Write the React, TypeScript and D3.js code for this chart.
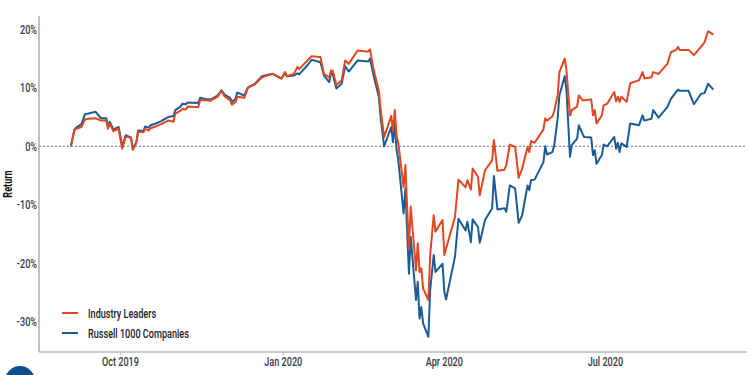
import React from "react";
import * as d3 from "d3";

const dates = [
  "2019-09-03","2019-09-05","2019-09-06","2019-09-09","2019-09-11","2019-09-13","2019-09-17","2019-09-20","2019-09-23","2019-09-24",
  "2019-09-25","2019-09-27","2019-09-30","2019-10-02","2019-10-04","2019-10-07","2019-10-08","2019-10-10","2019-10-11","2019-10-14",
  "2019-10-15","2019-10-17","2019-10-18","2019-10-21","2019-10-24","2019-10-28","2019-10-31","2019-11-01","2019-11-04","2019-11-05",
  "2019-11-07","2019-11-08","2019-11-14","2019-11-15","2019-11-18","2019-11-21","2019-11-25","2019-11-27","2019-11-29","2019-12-02",
  "2019-12-03","2019-12-05","2019-12-06","2019-12-10","2019-12-12","2019-12-16","2019-12-20","2019-12-26","2019-12-31","2020-01-02",
  "2020-01-03","2020-01-07","2020-01-09","2020-01-10","2020-01-15","2020-01-17","2020-01-22","2020-01-24","2020-01-27","2020-01-28",
  "2020-01-29","2020-01-31","2020-02-03","2020-02-05","2020-02-07","2020-02-12","2020-02-18","2020-02-19","2020-02-21","2020-02-24",
  "2020-02-25","2020-02-27","2020-03-02","2020-03-03","2020-03-04","2020-03-05","2020-03-06","2020-03-09","2020-03-10","2020-03-12",
  "2020-03-13","2020-03-16","2020-03-17","2020-03-18","2020-03-19","2020-03-20","2020-03-23","2020-03-24","2020-03-26","2020-03-27",
  "2020-03-31","2020-04-01","2020-04-02","2020-04-07","2020-04-09","2020-04-13","2020-04-14","2020-04-16","2020-04-17","2020-04-20",
  "2020-04-21","2020-04-24","2020-04-28","2020-04-29","2020-05-01","2020-05-05","2020-05-06","2020-05-08","2020-05-11","2020-05-13",
  "2020-05-15","2020-05-18","2020-05-19","2020-05-20","2020-05-22","2020-05-27","2020-05-28","2020-05-29","2020-06-01","2020-06-02",
  "2020-06-04","2020-06-05","2020-06-08","2020-06-09","2020-06-11","2020-06-12","2020-06-15","2020-06-16","2020-06-18","2020-06-19",
  "2020-06-23","2020-06-24","2020-06-25","2020-06-26","2020-06-29","2020-06-30","2020-07-02","2020-07-06","2020-07-07","2020-07-08",
  "2020-07-09","2020-07-10","2020-07-13","2020-07-15","2020-07-20","2020-07-22","2020-07-23","2020-07-27","2020-07-28","2020-07-31",
  "2020-08-05","2020-08-07","2020-08-10","2020-08-11","2020-08-12","2020-08-17","2020-08-20","2020-08-24","2020-08-26","2020-08-28",
  "2020-08-31"
];

const russell1000 = [
  0.0, 2.85, 3.2, 3.8, 5.5, 5.6, 5.9, 4.8, 4.8, 3.3,
  4.2, 2.9, 3.3, 0.0, 1.9, 1.5, -0.4, 0.7, 2.7, 2.6,
  3.4, 3.2, 3.6, 3.9, 4.3, 5.0, 5.2, 6.2, 6.8, 7.3,
  7.2, 7.5, 7.4, 8.3, 8.1, 8.0, 8.7, 9.6, 8.8, 8.3,
  7.6, 8.1, 9.2, 8.7, 10.1, 10.7, 12.0, 12.4, 11.6, 12.6,
  12.0, 12.1, 12.5, 12.3, 14.0, 14.8, 14.4, 12.1, 11.0, 12.6,
  12.3, 9.9, 10.7, 13.7, 12.8, 14.7, 14.5, 15.0, 12.1, 8.5,
  5.0, 0.0, 3.3, 0.7, 4.0, -0.5, -2.4, -11.5, -7.2, -21.8,
  -15.5, -26.3, -23.2, -29.5, -27.5, -30.3, -32.6, -24.6, -18.6, -21.5,
  -20.1, -24.9, -26.2, -18.9, -12.4, -14.4, -12.9, -16.4, -12.5, -13.8,
  -16.5, -12.6, -10.6, -5.1, -10.8, -10.6, -11.2, -6.7, -7.2, -13.1,
  -11.8, -6.7, -7.5, -5.8, -5.7, -2.7, 0.0, -1.4, -1.0, 0.0,
  4.7, 8.7, 12.0, 9.6, -1.8, 0.2, 1.3, 3.6, 2.2, 1.6,
  1.5, -1.5, -0.7, -3.0, -1.5, 0.3, 0.0, 1.6, -0.4, 0.6,
  -1.0, 0.5, -0.1, 3.9, 3.6, 5.3, 4.4, 4.7, 6.2, 4.9,
  6.7, 8.1, 9.3, 9.7, 9.5, 9.5, 7.2, 9.0, 9.1, 10.7,
  9.7
];

const industryLeaders = [
  0.0, 2.8, 3.0, 3.3, 4.6, 4.7, 4.8, 4.4, 4.4, 3.0,
  3.9, 2.6, 3.0, -0.4, 1.7, 1.4, -0.6, 0.6, 2.5, 2.4,
  3.0, 2.7, 3.1, 3.4, 3.8, 4.4, 4.2, 5.6, 6.1, 6.4,
  6.3, 6.8, 6.7, 7.9, 7.9, 7.8, 8.5, 9.5, 8.5, 7.9,
  7.1, 7.6, 8.5, 8.3, 10.0, 10.6, 11.8, 12.4, 11.6, 12.7,
  12.0, 12.4, 13.6, 13.2, 14.8, 15.4, 15.3, 12.4, 11.8, 13.0,
  12.9, 10.5, 11.3, 14.7, 14.1, 16.4, 16.2, 16.6, 13.2, 9.5,
  6.3, 1.6, 5.2, 2.5, 6.2, 1.8, 0.5, -7.0, -3.2, -17.5,
  -10.3, -21.2, -16.6, -21.5, -20.9, -24.3, -26.3, -18.6, -11.8, -14.6,
  -12.6, -18.6, -17.5, -12.1, -5.7, -7.0, -5.8, -7.4, -3.8, -5.2,
  -8.4, -4.1, -2.4, 1.1, -4.2, -4.0, -3.2, 0.3, -0.1, -5.4,
  -3.8, -0.1, -1.0, 0.9, 0.6, 2.9, 4.8, 4.4, 5.1, 5.9,
  8.7, 12.7, 15.0, 13.0, 5.3, 6.2, 6.8, 8.7, 7.9, 7.9,
  8.0, 5.3, 6.2, 3.9, 5.3, 7.0, 7.3, 9.3, 7.7, 8.5,
  7.6, 8.5, 7.6, 10.8, 11.3, 12.7, 11.6, 11.8, 12.7, 12.4,
  14.1, 16.1, 16.5, 17.0, 16.5, 16.5, 15.6, 17.0, 17.8, 19.7,
  19.1
];

const yTicks = [20, 10, 0, -10, -20, -30];
const yTickLabels = ["20%", "10%", "0%", "-10%", "-20%", "-30%"];
const xTicks = ["2019-10-01", "2020-01-01", "2020-04-01", "2020-07-01"];
const xTickLabels = ["Oct 2019", "Jan 2020", "Apr 2020", "Jul 2020"];
const seriesNames = ["Industry Leaders", "Russell 1000 Companies"];
const seriesColors = ["#e2471f", "#1b5c97"];

const W = 750;
const H = 375;
const FONT = "Roboto, 'DejaVu Sans', sans-serif";
const SX = 0.7;

function CText(props: {
  x: number;
  y: number;
  anchor?: string;
  size?: number;
  weight?: number | string;
  fill?: string;
  rotate?: number;
  children: React.ReactNode;
}) {
  const { x, y, anchor = "start", size = 13, weight = 500, fill = "#3a3a3a", rotate = 0, children } = props;
  return (
    <g transform={`translate(${x},${y}) rotate(${rotate}) scale(${SX},1)`}>
      <text x={0} y={0} dy="0.35em" textAnchor={anchor} fontSize={size} fontWeight={weight} fill={fill}>
        {children}
      </text>
    </g>
  );
}

export default function App() {
  const parse = d3.timeParse("%Y-%m-%d");
  const dts = dates.map((d) => parse(d) as Date);
  const left = 39, right = 747, top = 16, bottom = 352;

  const x = d3
    .scaleTime()
    .domain([new Date(2019, 7, 16), new Date(2020, 8, 19)])
    .range([left, right]);
  const y = d3.scaleLinear().domain([-35.2, 22.3]).range([bottom, top]);

  const line = d3
    .line<number>()
    .x((_, i) => x(dts[i]))
    .y((v) => y(v))
    .curve(d3.curveLinear);

  const series = [industryLeaders, russell1000];

  return (
    <svg
      width={W}
      height={H}
      style={{ position: "absolute", left: 0, top: 0, background: "#fff" }}
      fontFamily={FONT}
    >
      <rect x={0} y={0} width={W} height={H} fill="#fff" />
      <line x1={left} x2={right} y1={y(0)} y2={y(0)} stroke="#777" strokeWidth={1} strokeDasharray="2,2" />
      <line x1={left} x2={left} y1={top} y2={bottom} stroke="#9a9a9a" strokeWidth={1.2} />
      <line x1={left} x2={right} y1={bottom} y2={bottom} stroke="#9a9a9a" strokeWidth={1.2} />
      {yTicks.map((t, i) => (
        <CText key={"yt" + t} x={37} y={y(t)} anchor="end">
          {yTickLabels[i]}
        </CText>
      ))}
      {xTicks.map((t, i) => {
        const px = x(parse(t) as Date);
        return (
          <g key={"xt" + t}>
            <line x1={px} x2={px} y1={bottom} y2={bottom + 3} stroke="#bbb" strokeWidth={1} />
            <CText x={px} y={bottom + 9} anchor="middle">
              {xTickLabels[i]}
            </CText>
          </g>
        );
      })}
      <CText x={7} y={184} anchor="middle" rotate={-90} fill="#111" weight={700}>
        Return
      </CText>
      {series.slice().reverse().map((s, k) => {
        const idx = series.length - 1 - k;
        return (
          <path
            key={"s" + idx}
            d={line(s) || ""}
            fill="none"
            stroke={seriesColors[idx]}
            strokeWidth={2}
            strokeLinejoin="round"
          />
        );
      })}
      {seriesNames.map((n, i) => (
        <g key={"lg" + i}>
          <line x1={62} x2={78} y1={313 + i * 20} y2={313 + i * 20} stroke={seriesColors[i]} strokeWidth={2} />
          <CText x={88} y={313 + i * 20} fill="#222">
            {n}
          </CText>
        </g>
      ))}
      <circle cx={20} cy={381} r={15} fill="#0f4d8c" />
    </svg>
  );
}
